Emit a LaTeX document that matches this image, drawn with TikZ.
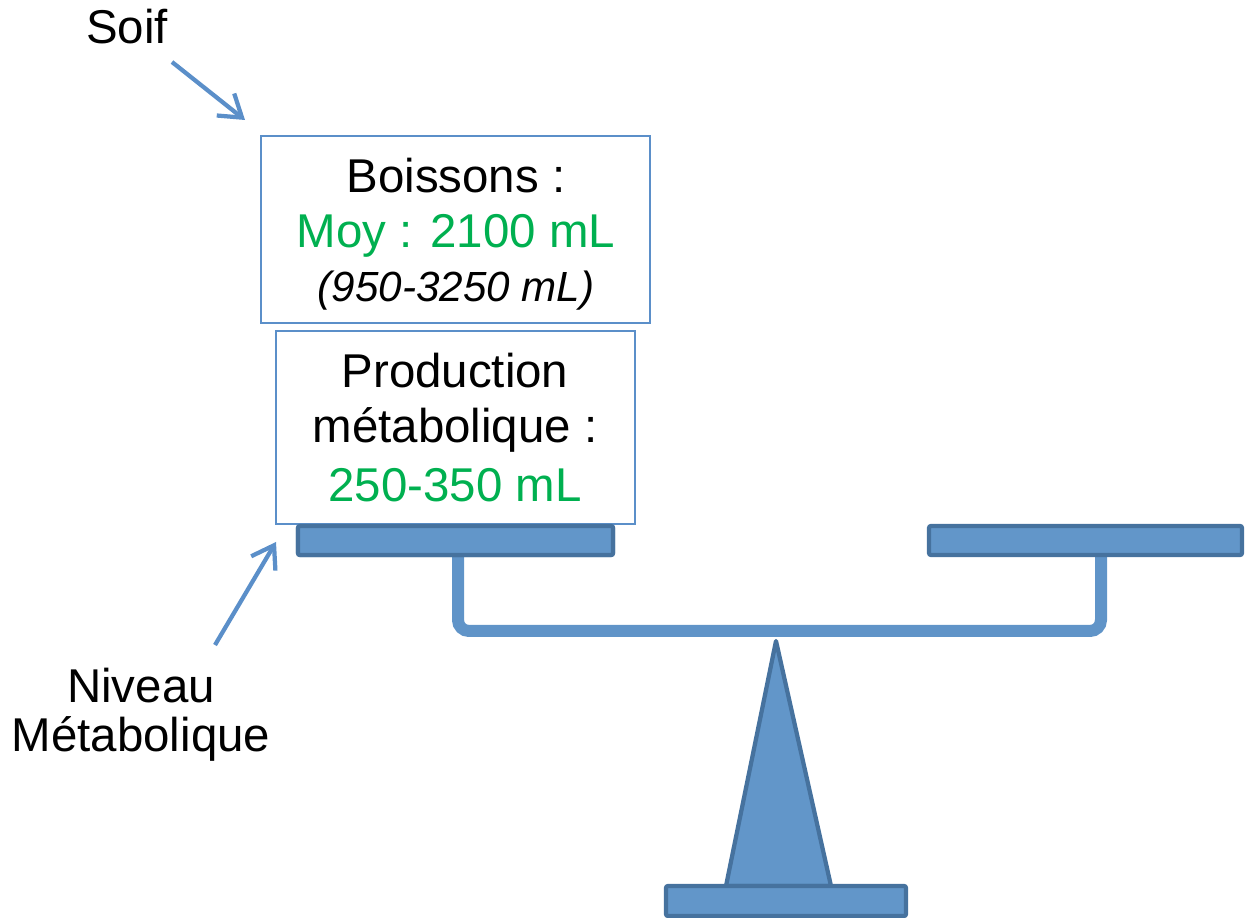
\documentclass[tikz,border=0pt]{standalone}
\usepackage{fontspec}
\setmainfont{Liberation Sans}
\usetikzlibrary{arrows.meta}
\definecolor{shfill}{RGB}{98,150,201}
\definecolor{shline}{RGB}{70,114,158}
\definecolor{beamcol}{RGB}{96,148,200}
\definecolor{arrcol}{RGB}{91,143,201}
\definecolor{boxline}{RGB}{91,143,201}
\definecolor{tgreen}{RGB}{0,176,80}
\begin{document}
\begin{tikzpicture}[x=0.02cm,y=-0.02cm,
  box/.style={draw=boxline, line width=0.03cm, inner sep=0pt, fill=white},
  txt/.style={anchor=base, inner sep=0pt, font=\fontsize{27}{31}\selectfont},
  smalltxt/.style={anchor=base, inner sep=0pt, font=\fontsize{24}{28}\selectfont\itshape},
  plate/.style={fill=shfill, draw=shline, line width=0.085cm, rounded corners=0.04cm},
  beamline/.style={draw=beamcol, line width=0.24cm, rounded corners=0.22cm},
  ptr/.style={draw=arrcol, line width=0.085cm, -{Straight Barb[length=12pt,width=16pt]}}]
\useasboundingbox (0,0) rectangle (1245,918);

% beam
\draw[beamline] (458,550) -- (458,631) -- (1101,631) -- (1101,550);

% pan plates
\node[plate, minimum width=6.3cm, minimum height=0.58cm] (leftpan) at (455.5,540.5) {};
\node[plate, minimum width=6.26cm, minimum height=0.58cm] (rightpan) at (1085.5,540.5) {};

% fulcrum
\draw[plate, rounded corners=0pt, line join=round] (776,641) -- (831,886) -- (726,886) -- cycle;
\node[plate, minimum width=4.8cm, minimum height=0.6cm] (foot) at (786,901) {};

% boxes
\node[box, minimum width=7.78cm, minimum height=3.74cm] (boissons) at (455.5,229.5) {};
\node[box, minimum width=7.18cm, minimum height=3.86cm] (production) at (455.5,427.5) {};
% left pan drawn again over the production box edge
\node[plate, minimum width=6.3cm, minimum height=0.58cm] (leftpanTop) at (455.5,540.5) {};

% texts
\node[txt] (t1) at (456,193) {Boissons :};
\node[txt, text=tgreen] (t2) at (456,248) {Moy : 2100 mL};
\node[smalltxt] (t3) at (456,302) {(950-3250 mL)};
\node[txt] (t4) at (455,388) {Production};
\node[txt] (t5) at (455,443) {métabolique :};
\node[txt, text=tgreen] (t6) at (455,502) {250-350 mL};

\node[txt] (soif) at (127,44) {Soif};
\node[txt] (niv1) at (141,703) {Niveau};
\node[txt] (niv2) at (141,752) {Métabolique};

% arrows
\coordinate (soifA) at (172,62);
\coordinate (soifB) at (245,120);
\coordinate (nivA) at (215,645);
\coordinate (nivB) at (276,542);
\draw[ptr] (soifA) -- (soifB);
\draw[ptr] (nivA) -- (nivB);
\end{tikzpicture}
\end{document}
